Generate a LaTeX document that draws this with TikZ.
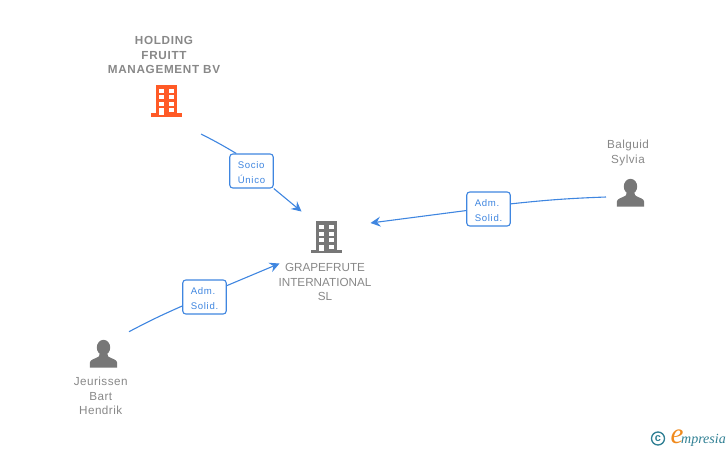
\documentclass[tikz,border=0pt]{standalone}
\usepackage{fontspec}
\setmainfont{Liberation Sans}
\newfontfamily\logofont{Liberation Serif}
\usetikzlibrary{arrows.meta}
\usepackage{xcolor}
\definecolor{linkblue}{HTML}{3F86E0}
\definecolor{icongray}{HTML}{777777}
\definecolor{textgray}{HTML}{888888}
\definecolor{iconorange}{HTML}{FF5A26}
\definecolor{logoteal}{HTML}{2F7F93}
\definecolor{logoorange}{HTML}{F08A1D}

\tikzset{
building/.pic={
    \fill[pic actions] (-10.5,-16) rectangle (10.5,14);
    \fill[pic actions] (-15.5,12.7) rectangle (15.5,16);
    \foreach \wy in {-12,-5.4,1.2} {
        \fill[white] (-7.5,\wy) rectangle ++(5,4);
        \fill[white] (2.5,\wy) rectangle ++(5,4);
    }
    \fill[white] (2.5,7.8) rectangle ++(5,4);
    \fill[white] (-7.5,7.8) rectangle (-2.5,14);
},
person/.pic={
    \fill[pic actions] (0,-6.5) ellipse (6.7 and 7.7);
    \fill[pic actions] (-13.7,13.7) -- (-13.7,9) .. controls (-13.7,5.5) and (-9,5) .. (-5.5,3) .. controls (-4.5,2.5) and (-4,1.5) .. (-4,0) -- (4,0) .. controls (4,1.5) and (4.5,2.5) .. (5.5,3) .. controls (9,5) and (13.7,5.5) .. (13.7,9) -- (13.7,13.7) -- cycle;
}
}

\begin{document}
\begin{tikzpicture}[x=1pt,y=-1pt,
nametext/.style={text=textgray,align=center,inner sep=0pt,font=\fontsize{11.7}{14.7}\selectfont},
spacedtext/.style={nametext,font=\fontsize{11.7}{14.7}\selectfont\addfontfeature{LetterSpace=4}},
holdingtext/.style={nametext,font=\fontsize{11.7}{14.7}\selectfont\bfseries\addfontfeature{LetterSpace=6}},
rolebox/.style={draw=linkblue,line width=1.1pt,rounded corners=3pt,fill=white,text=linkblue,align=left,
    minimum width=43.5pt,minimum height=34pt,inner sep=0pt,text height=25.5pt,text depth=0pt,
    font=\fontsize{9.6}{15}\selectfont\addfontfeature{LetterSpace=7}},
link/.style={draw=linkblue,line width=1.1pt},
linkarrow/.style={link,-{Stealth[length=10pt,width=10pt,inset=3.5pt]}}]
\useasboundingbox (0,0) rectangle (728,450);

\node (Holding) [holdingtext] at (164,55) {HOLDING\\FRUITT\\MANAGEMENT BV};
\node (Grapefrute) [nametext] at (325,282) {GRAPEFRUTE\\INTERNATIONAL\\SL};
\node (Balguid) [spacedtext] at (628,153) {Balguid\\Sylvia};
\node (Jeurissen) [spacedtext] at (100.7,396) {Jeurissen\\Bart\\Hendrik};

\pic[fill=iconorange] at (166.5,100.5) {building};
\pic[fill=icongray] at (326,237) {building};
\pic[fill=icongray] at (630.5,193) {person};
\pic[fill=icongray] at (103.5,354) {person};

\node (Socio) [rolebox] at (251.5,171) {Socio\\Único};
\node (AdmBalguid) [rolebox] at (488.5,209) {Adm.\\Solid.};
\node (AdmJeurissen) [rolebox] at (204.5,297) {Adm.\\Solid.};

\coordinate (HoldingEnd) at (201,134);
\coordinate (BalguidEnd) at (606,197);
\coordinate (JeurissenEnd) at (129,331.7);
\coordinate (TargetTop) at (301.5,211.5);
\coordinate (TargetRight) at (370.5,223);
\coordinate (TargetLeft) at (279.5,263.5);

\draw[link] (HoldingEnd) to[bend left=2] (Socio.131);
\draw[linkarrow] (Socio.south east) -- (TargetTop);
\draw[link] (BalguidEnd) to[bend right=2] (AdmBalguid.13);
\draw[linkarrow] (AdmBalguid.184) -- (TargetRight);
\draw[link] (JeurissenEnd) to[bend left=2] (AdmJeurissen.202);
\draw[linkarrow] (AdmJeurissen.27) -- (TargetLeft);

\node (Copyright) [circle,draw=logoteal,line width=1.3pt,text=logoteal,inner sep=0pt,minimum size=13pt,font=\fontsize{11}{11}\selectfont\bfseries] at (658,438.5) {c};
\node (LogoE) [text=logoorange,inner sep=0pt,font=\logofont\itshape\fontsize{29}{29}\selectfont] at (677,436.5) {e};
\node (Logo) [text=logoteal,anchor=west,inner sep=0pt,font=\logofont\itshape\fontsize{14}{14}\selectfont] at (681,440) {mpresia};
\end{tikzpicture}
\end{document}
